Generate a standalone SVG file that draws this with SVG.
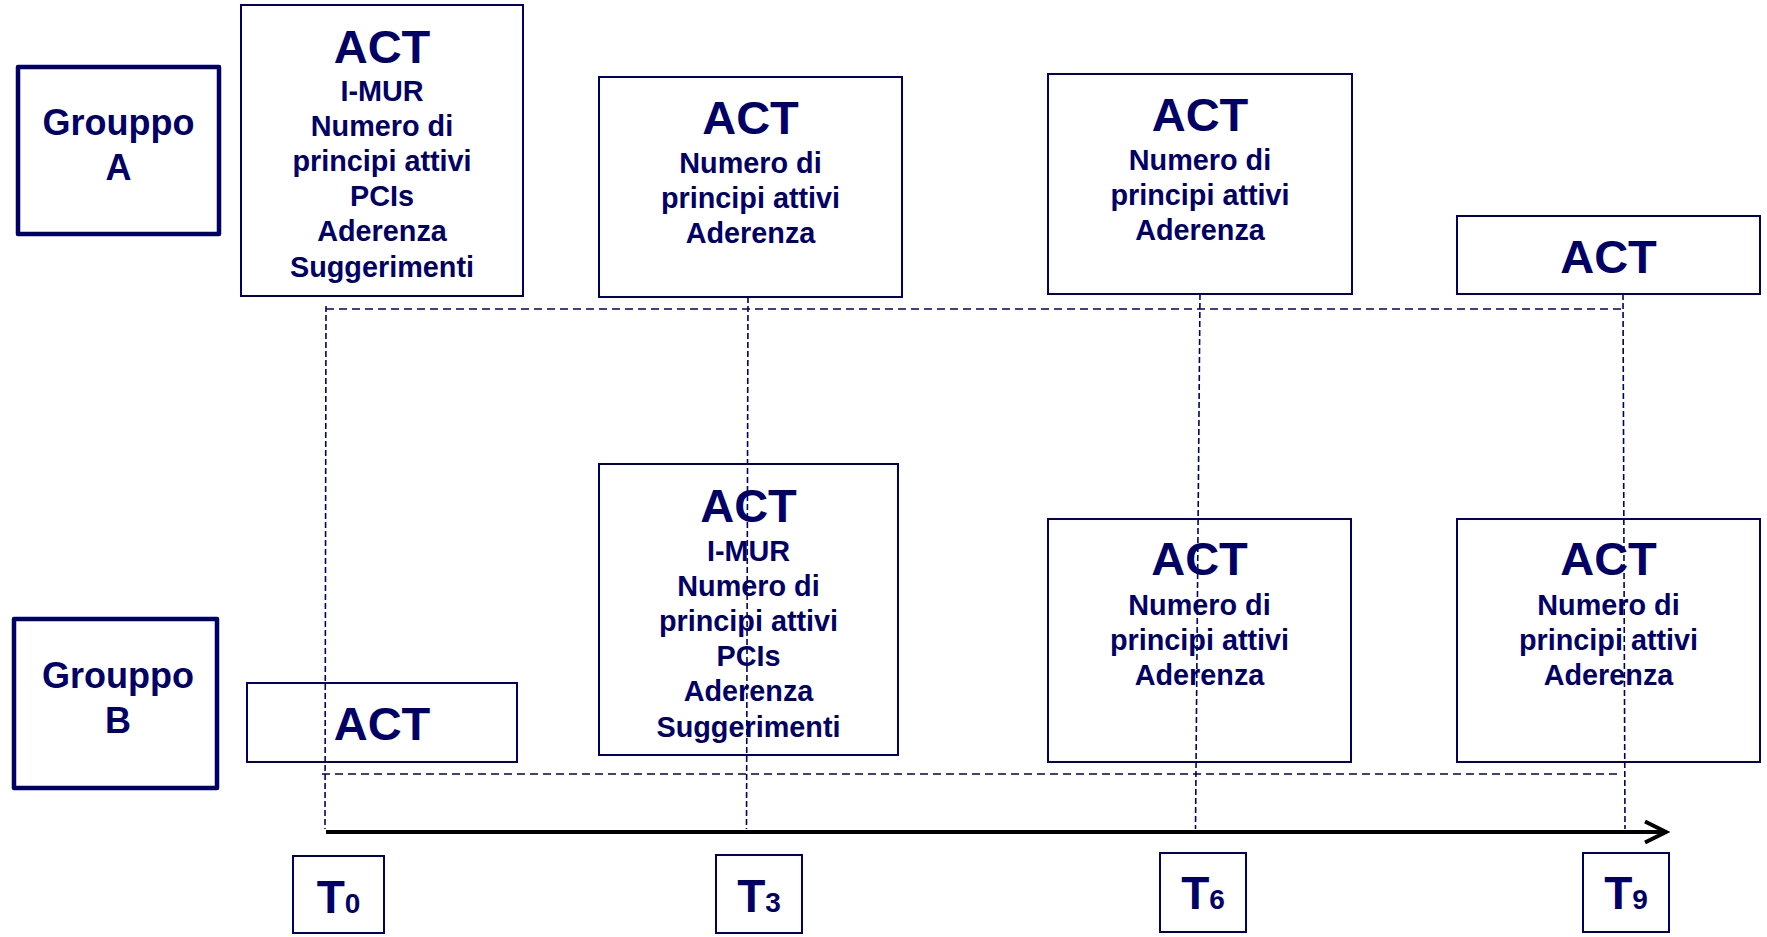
<svg xmlns="http://www.w3.org/2000/svg" width="1767" height="937" viewBox="0 0 1767 937">
<style>
text{font-family:"Liberation Sans",Arimo,Arial,sans-serif;font-weight:bold;fill:#000066;text-anchor:middle}
.grp{fill:#fff;stroke:#000066;stroke-width:4.5;stroke-linejoin:round}
.box{fill:#fff;stroke:#000066;stroke-width:2}
.big{font-size:47px}
.sub{font-size:28.8px}
.g{font-size:36px}
.t{font-size:46px}
.d{font-size:28px}
.vd{fill:none;stroke:#000066;stroke-width:1.6;stroke-dasharray:6 3}
.hd{fill:none;stroke:#000066;stroke-width:1.6;stroke-dasharray:8 5}
</style>
<defs>
<marker id="chev" markerUnits="userSpaceOnUse" markerWidth="30" markerHeight="30" viewBox="-26 -15 30 30" refX="0" refY="0" orient="auto">
<path d="M-21,-10.5 L0,0 L-21,10.5" fill="none" stroke="#000" stroke-width="4"/>
</marker>
</defs>
<rect width="1767" height="937" fill="#fff"/>

<g id="grA"><rect class="grp" x="18" y="67" width="201" height="167"/><text class="g" x="118.5" y="135">Grouppo</text><text class="g" x="118.5" y="180">A</text></g>
<g id="grB"><rect class="grp" x="14" y="619" width="203" height="169"/><text class="g" x="118" y="688">Grouppo</text><text class="g" x="118" y="733">B</text></g>

<g id="a0"><rect class="box" x="241" y="5" width="282" height="291"/>
<text class="big" x="382" y="63">ACT</text>
<text class="sub" x="382" y="101">I-MUR</text>
<text class="sub" x="382" y="136">Numero di</text>
<text class="sub" x="382" y="171">principi attivi</text>
<text class="sub" x="382" y="206">PCIs</text>
<text class="sub" x="382" y="241">Aderenza</text>
<text class="sub" x="382" y="277">Suggerimenti</text></g>

<g id="a3"><rect class="box" x="599" y="77" width="303" height="220"/>
<text class="big" x="750.5" y="134">ACT</text>
<text class="sub" x="750.5" y="173">Numero di</text>
<text class="sub" x="750.5" y="208">principi attivi</text>
<text class="sub" x="750.5" y="243">Aderenza</text></g>

<g id="a6"><rect class="box" x="1048" y="74" width="304" height="220"/>
<text class="big" x="1200" y="131">ACT</text>
<text class="sub" x="1200" y="170">Numero di</text>
<text class="sub" x="1200" y="205">principi attivi</text>
<text class="sub" x="1200" y="240">Aderenza</text></g>

<g id="a9"><rect class="box" x="1457" y="216" width="303" height="78"/>
<text class="big" x="1608.5" y="273">ACT</text></g>

<g id="b0"><rect class="box" x="247" y="683" width="270" height="79"/>
<text class="big" x="382" y="740">ACT</text></g>

<g id="b3"><rect class="box" x="599" y="464" width="299" height="291"/>
<text class="big" x="748.5" y="522">ACT</text>
<text class="sub" x="748.5" y="561">I-MUR</text>
<text class="sub" x="748.5" y="596">Numero di</text>
<text class="sub" x="748.5" y="631">principi attivi</text>
<text class="sub" x="748.5" y="666">PCIs</text>
<text class="sub" x="748.5" y="701">Aderenza</text>
<text class="sub" x="748.5" y="737">Suggerimenti</text></g>

<g id="b6"><rect class="box" x="1048" y="519" width="303" height="243"/>
<text class="big" x="1199.5" y="575">ACT</text>
<text class="sub" x="1199.5" y="615">Numero di</text>
<text class="sub" x="1199.5" y="650">principi attivi</text>
<text class="sub" x="1199.5" y="685">Aderenza</text></g>

<g id="b9"><rect class="box" x="1457" y="519" width="303" height="243"/>
<text class="big" x="1608.5" y="575">ACT</text>
<text class="sub" x="1608.5" y="615">Numero di</text>
<text class="sub" x="1608.5" y="650">principi attivi</text>
<text class="sub" x="1608.5" y="685">Aderenza</text></g>

<g id="t0"><rect class="box" x="293" y="856" width="91" height="77"/><text class="t" x="338.5" y="913">T<tspan class="d">0</tspan></text></g>
<g id="t3"><rect class="box" x="716" y="855" width="86" height="78"/><text class="t" x="759" y="912">T<tspan class="d">3</tspan></text></g>
<g id="t6"><rect class="box" x="1160" y="853" width="86" height="79"/><text class="t" x="1203" y="909">T<tspan class="d">6</tspan></text></g>
<g id="t9"><rect class="box" x="1583" y="853" width="86" height="79"/><text class="t" x="1626" y="909">T<tspan class="d">9</tspan></text></g>

<g id="connectors">
<line class="hd" x1="326" y1="309" x2="1623" y2="309"/>
<line class="hd" x1="322" y1="774" x2="1622" y2="774"/>
<line class="vd" x1="326" y1="306" x2="325" y2="829"/>
<line class="vd" x1="748" y1="297" x2="746.5" y2="829"/>
<line class="vd" x1="1200" y1="294" x2="1195.5" y2="829"/>
<line class="vd" x1="1623" y1="294" x2="1625" y2="829"/>
<line x1="326" y1="832" x2="1666" y2="832" stroke="#000" stroke-width="4" marker-end="url(#chev)"/>
</g>
</svg>
